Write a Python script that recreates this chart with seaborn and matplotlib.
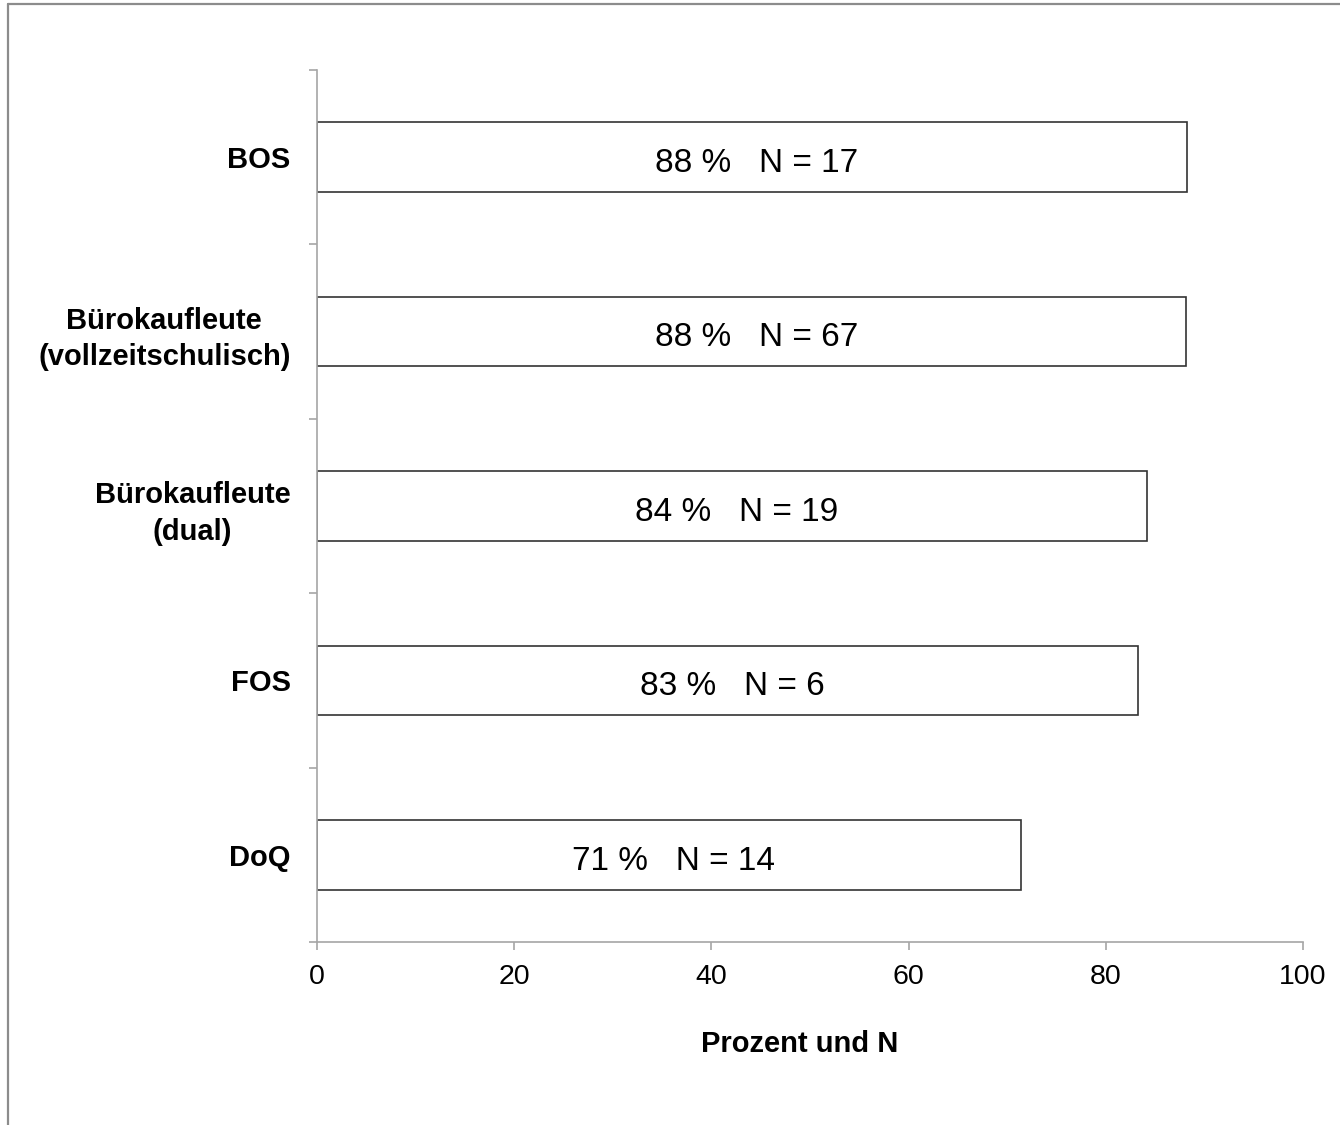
import matplotlib
matplotlib.use("Agg")
import matplotlib.pyplot as plt
from matplotlib.lines import Line2D
import numpy as np
import seaborn as sns

# data
categories = ["BOS", "Bürokaufleute\n(vollzeitschulisch)", "Bürokaufleute\n(dual)", "FOS", "DoQ"]
prozent = [88.2, 88.1, 84.2, 83.3, 71.4]
prozent_label = [88, 88, 84, 83, 71]
n_werte = [17, 67, 19, 6, 14]
x_ticks = [0, 20, 40, 60, 80, 100]

sns.set_theme(style="white")
plt.rcParams["font.family"] = ["Liberation Sans", "DejaVu Sans"]

W, H = 1340, 1125
fig = plt.figure(figsize=(W / 100, H / 100), dpi=100)
ax = fig.add_axes([317 / W, 1 - 942 / H, (1303 - 317) / W, (942 - 70) / H])

sns.barplot(x=prozent, y=categories, orient="h", color="white", saturation=1,
            edgecolor="#333333", linewidth=1.2, width=0.4, ax=ax)

for i, (p, pl, n) in enumerate(zip(prozent, prozent_label, n_werte)):
    ax.text(p / 2 + 0.5, i + 0.085, f"{pl} %   N = {n}", ha="center", va="baseline",
            fontsize=24, color="black")

ax.set_xlim(0, 100)
ax.set_ylim(len(categories) - 0.5, -0.5)
ax.set_xticks(x_ticks)
ax.set_xticklabels([str(t) for t in x_ticks], fontsize=20.5, color="black")
ax.set_yticks(np.arange(-0.5, len(categories), 1), minor=True)
for lab in ax.get_yticklabels():
    lab.set_fontsize(21)
    lab.set_fontweight("bold")
    lab.set_multialignment("center")
    lab.set_linespacing(1.4)
    lab.set_color("black")

spine_col = "#a6a6a6"
for s in ["top", "right"]:
    ax.spines[s].set_visible(False)
for s in ["left", "bottom"]:
    ax.spines[s].set_color(spine_col)
    ax.spines[s].set_linewidth(1.2)

ax.tick_params(axis="y", which="major", length=0, pad=19)
ax.tick_params(axis="y", which="minor", left=True, length=6, width=1.2, color=spine_col)
ax.tick_params(axis="x", which="major", bottom=True, length=6, width=1.2, color=spine_col, pad=10)

ax.set_xlabel("Prozent und N", fontsize=21, fontweight="bold", color="black", labelpad=30)
ax.xaxis.set_label_coords(0.49, -0.1005)
ax.set_ylabel("")

# outer frame (only top and left edges visible)
fig.add_artist(Line2D([8 / W, 8 / W], [0, 1 - 4 / H], color="#8c8c8c", linewidth=1.6))
fig.add_artist(Line2D([8 / W, 1], [1 - 4 / H, 1 - 4 / H], color="#8c8c8c", linewidth=1.6))

fig.savefig("out.png", dpi=100)
